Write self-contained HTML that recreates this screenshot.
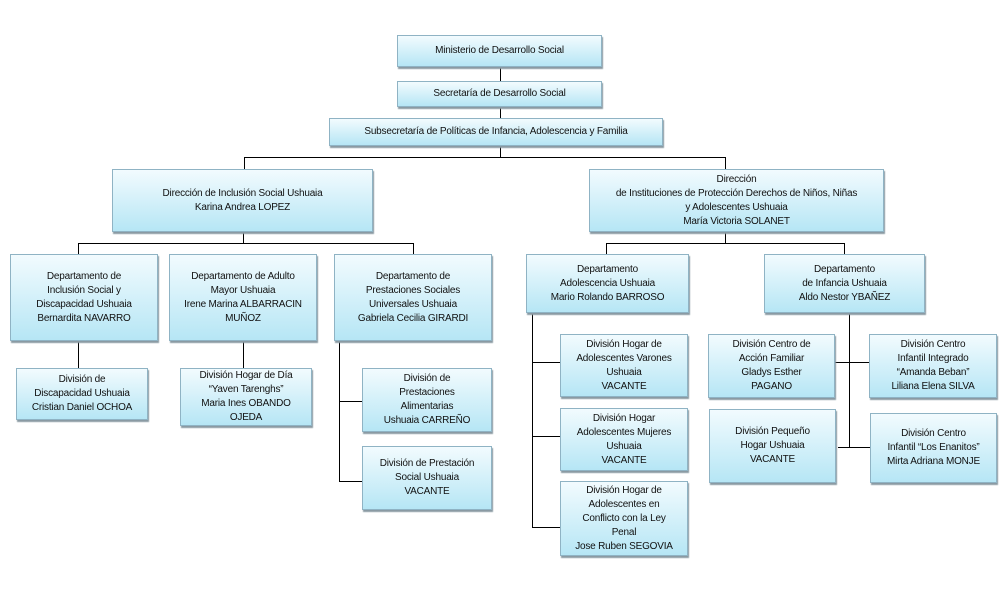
<!DOCTYPE html>
<html><head><meta charset="utf-8"><style>
body{margin:0;width:1008px;height:612px;background:#fff;position:relative;overflow:hidden;font-family:"Liberation Sans",sans-serif;}
.b{position:absolute;box-sizing:border-box;border:1px solid #8fb3c4;background:linear-gradient(#f2fbfe,#b6e6f5);box-shadow:1px 2px 1px #8a9aa3;display:flex;align-items:center;justify-content:center;text-align:center;font-size:10px;line-height:14px;color:#111;letter-spacing:-0.2px;}
.h{position:absolute;height:1px;background:#000}
.v{position:absolute;width:1px;background:#000}
</style></head><body>
<div class="v" style="left:500px;top:67px;height:51px"></div>
<div class="v" style="left:500px;top:146px;height:11px"></div>
<div class="h" style="left:244px;top:157px;width:482px"></div>
<div class="v" style="left:244px;top:157px;height:12px"></div>
<div class="v" style="left:725px;top:157px;height:12px"></div>
<div class="v" style="left:243px;top:232px;height:11px"></div>
<div class="h" style="left:78px;top:243px;width:336px"></div>
<div class="v" style="left:78px;top:243px;height:11px"></div>
<div class="v" style="left:413px;top:243px;height:11px"></div>
<div class="v" style="left:78px;top:341px;height:27px"></div>
<div class="v" style="left:243px;top:341px;height:27px"></div>
<div class="v" style="left:339px;top:341px;height:140px"></div>
<div class="h" style="left:339px;top:401px;width:23px"></div>
<div class="h" style="left:339px;top:481px;width:23px"></div>
<div class="v" style="left:725px;top:232px;height:11px"></div>
<div class="h" style="left:606px;top:243px;width:239px"></div>
<div class="v" style="left:606px;top:243px;height:11px"></div>
<div class="v" style="left:844px;top:243px;height:11px"></div>
<div class="v" style="left:532px;top:313px;height:215px"></div>
<div class="h" style="left:532px;top:362px;width:28px"></div>
<div class="h" style="left:532px;top:436px;width:28px"></div>
<div class="h" style="left:532px;top:527px;width:28px"></div>
<div class="v" style="left:849px;top:313px;height:135px"></div>
<div class="h" style="left:832px;top:362px;width:37px"></div>
<div class="h" style="left:838px;top:447px;width:32px"></div>

<div class="b" style="left:397px;top:35px;width:205px;height:32px">Ministerio de Desarrollo Social</div>
<div class="b" style="left:397px;top:81px;width:205px;height:26px">Secretaría de Desarrollo Social</div>
<div class="b" style="left:329px;top:118px;width:334px;height:28px">Subsecretaría de Políticas de Infancia, Adolescencia y Familia</div>
<div class="b" style="left:112px;top:169px;width:261px;height:63px">Dirección de Inclusión Social Ushuaia<br>Karina Andrea LOPEZ</div>
<div class="b" style="left:589px;top:169px;width:295px;height:63px">Dirección<br>de Instituciones de Protección Derechos de Niños, Niñas<br>y Adolescentes Ushuaia<br>María Victoria SOLANET</div>
<div class="b" style="left:10px;top:254px;width:148px;height:87px">Departamento de<br>Inclusión Social y<br>Discapacidad Ushuaia<br>Bernardita NAVARRO</div>
<div class="b" style="left:169px;top:254px;width:148px;height:87px">Departamento de Adulto<br>Mayor Ushuaia<br>Irene Marina ALBARRACIN<br>MUÑOZ</div>
<div class="b" style="left:334px;top:254px;width:158px;height:87px">Departamento de<br>Prestaciones Sociales<br>Universales Ushuaia<br>Gabriela Cecilia GIRARDI</div>
<div class="b" style="left:16px;top:368px;width:132px;height:52px">División de<br>Discapacidad Ushuaia<br>Cristian Daniel OCHOA</div>
<div class="b" style="left:180px;top:368px;width:132px;height:58px">División Hogar de Día<br>“Yaven Tarenghs”<br>Maria Ines OBANDO<br>OJEDA</div>
<div class="b" style="left:362px;top:368px;width:130px;height:64px">División de<br>Prestaciones<br>Alimentarias<br>Ushuaia CARREÑO</div>
<div class="b" style="left:362px;top:446px;width:130px;height:64px">División de Prestación<br>Social Ushuaia<br>VACANTE</div>
<div class="b" style="left:526px;top:254px;width:163px;height:59px">Departamento<br>Adolescencia Ushuaia<br>Mario Rolando BARROSO</div>
<div class="b" style="left:764px;top:254px;width:161px;height:59px">Departamento<br>de Infancia Ushuaia<br>Aldo Nestor YBAÑEZ</div>
<div class="b" style="left:560px;top:334px;width:128px;height:63px">División Hogar de<br>Adolescentes Varones<br>Ushuaia<br>VACANTE</div>
<div class="b" style="left:560px;top:408px;width:128px;height:63px">División Hogar<br>Adolescentes Mujeres<br>Ushuaia<br>VACANTE</div>
<div class="b" style="left:560px;top:481px;width:128px;height:75px">División Hogar de<br>Adolescentes en<br>Conflicto con la Ley<br>Penal<br>Jose Ruben SEGOVIA</div>
<div class="b" style="left:708px;top:334px;width:127px;height:64px">División Centro de<br>Acción Familiar<br>Gladys Esther<br>PAGANO</div>
<div class="b" style="left:869px;top:334px;width:128px;height:64px">División Centro<br>Infantil Integrado<br>“Amanda Beban”<br>Liliana Elena SILVA</div>
<div class="b" style="left:709px;top:409px;width:127px;height:74px">División Pequeño<br>Hogar Ushuaia<br>VACANTE</div>
<div class="b" style="left:870px;top:413px;width:127px;height:70px">División Centro<br>Infantil “Los Enanitos”<br>Mirta Adriana MONJE</div>
</body></html>
